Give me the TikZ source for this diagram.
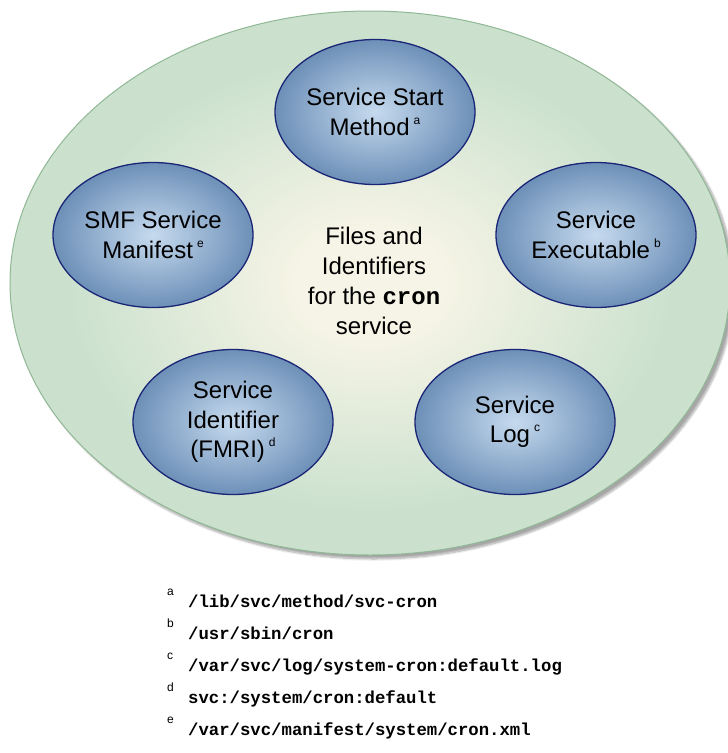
\documentclass[tikz,border=0pt]{standalone}
\usepackage{fontspec}
\setmainfont{Liberation Sans}
\setmonofont{Liberation Mono}
\usetikzlibrary{shapes.geometric,shadows.blur}
\definecolor{bgin}{HTML}{F6F4E6}
\definecolor{bgout}{HTML}{CBE1CE}
\definecolor{bgline}{HTML}{90B895}
\definecolor{ballin}{HTML}{C6DAEE}
\definecolor{ballout}{HTML}{6D90B8}
\definecolor{ballline}{HTML}{1B2575}
\pgfdeclareradialshading{bgshade}{\pgfpoint{0bp}{0bp}}{color(0bp)=(bgin); color(5bp)=(bgin); color(21bp)=(bgout); color(50bp)=(bgout)}
\pgfdeclareradialshading{ballshade}{\pgfpoint{0bp}{0bp}}{color(0bp)=(ballin); color(25bp)=(ballout); color(50bp)=(ballout)}
\newcommand\supl[1]{\,\raisebox{11pt}{\normalfont\fontsize{12}{12}\selectfont #1}}
\newcommand\notetext[2]{\makebox[21pt][l]{\raisebox{12pt}{\normalfont\fontsize{12}{12}\selectfont #1}}#2}
\tikzset{
    bgdisc/.style={ellipse, minimum width=720pt, minimum height=544pt, inner sep=0pt,
        draw=bgline, line width=1pt, shading=bgshade,
        blur shadow={shadow xshift=4pt, shadow yshift=-4pt, shadow opacity=35, shadow blur steps=8}},
    ball/.style={ellipse, minimum width=200pt, minimum height=145pt, inner sep=0pt,
        draw=ballline, line width=1.3pt, shading=ballshade, align=center,
        font=\fontsize{24}{29.5}\selectfont},
    note/.style={anchor=base west, inner sep=0pt, font=\ttfamily\bfseries\fontsize{17.3}{20}\selectfont}
}

\begin{document}
\begin{tikzpicture}[x=1pt,y=-1pt]
    \useasboundingbox (0,0) rectangle (728,753);

    \node[bgdisc] (cron) at (370,283) {};

    \node[ball] (start) at (375,112) {Service Start\\Method\supl{a}};
    \node[ball] (exec) at (596,235) {Service\\Executable\supl{b}};
    \node[ball] (log) at (515,422) {Service\\Log\supl{c}};
    \node[ball] (fmri) at (233,422) {Service\\Identifier\\(FMRI)\supl{d}};
    \node[ball] (manifest) at (153,235) {SMF Service\\Manifest\supl{e}};

    \node[align=center, font=\fontsize{24}{30}\selectfont] (title) at (374,281)
        {Files and\\Identifiers\\for the \texttt{\bfseries cron}\\service};

    \node[note] (fa) at (167,607) {\notetext{a}{/lib/svc/method/svc-cron}};
    \node[note] (fb) at (167,639) {\notetext{b}{/usr/sbin/cron}};
    \node[note] (fc) at (167,671) {\notetext{c}{/var/svc/log/system-cron:default.log}};
    \node[note] (fd) at (167,703) {\notetext{d}{svc:/system/cron:default}};
    \node[note] (fe) at (167,735) {\notetext{e}{/var/svc/manifest/system/cron.xml}};
\end{tikzpicture}
\end{document}
